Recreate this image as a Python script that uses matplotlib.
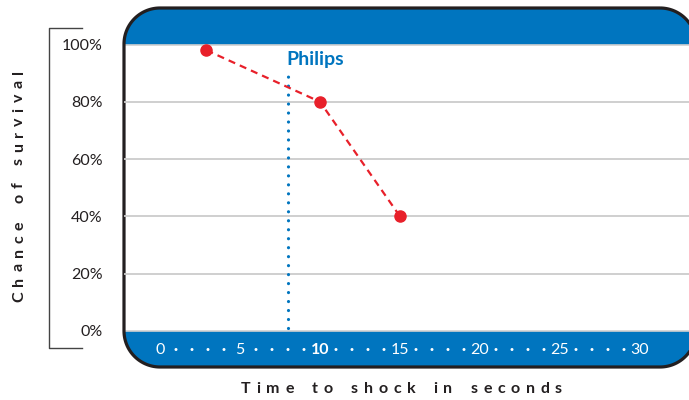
import matplotlib
matplotlib.use("Agg")
import numpy as np
import matplotlib.pyplot as plt
from matplotlib.patches import Polygon, Rectangle
from matplotlib.font_manager import FontProperties

# ---------------- data ----------------
times = [2.9, 10, 15]
survival = [98, 80, 40]
philips_time = 8
philips_label = "Philips"
y_ticks = [0, 20, 40, 60, 80, 100]
y_tick_labels = ["0%", "20%", "40%", "60%", "80%", "100%"]
x_major = [0, 5, 10, 15, 20, 25, 30]
x_major_labels = ["0", "5", "10", "15", "20", "25", "30"]
x_bold = "10"
x_minor = [1, 2, 3, 4, 6, 7, 8, 9, 11, 12, 13, 14, 16, 17, 18, 19,
           21, 22, 23, 24, 26, 27, 28, 29]
y_title = "Chance of survival"
x_title = "Time to shock in seconds"

# ---------------- style ----------------
BLUE = "#0075bf"
RED = "#e8202a"
GRID = "#cccccc"
DARK = "#231f20"
FONT = ["Lato", "DejaVu Sans"]
plt.rcParams["font.family"] = FONT

W, H = 689, 400
fig = plt.figure(figsize=(W / 100, H / 100), dpi=100)
renderer = fig.canvas.get_renderer()

# background axes in pixel units (y downwards)
bg = fig.add_axes([0, 0, 1, 1])
bg.set_xlim(0, W)
bg.set_ylim(H, 0)
bg.axis("off")


def rounded_rect(x0, y0, x1, y1, rad, n=30):
    pts = []
    corners = [(x1 - rad, y0 + rad, -90, 0),    # top right
               (x1 - rad, y1 - rad, 0, 90),     # bottom right
               (x0 + rad, y1 - rad, 90, 180),   # bottom left
               (x0 + rad, y0 + rad, 180, 270)]  # top left
    for cx, cy, a0, a1 in corners:
        a = np.radians(np.linspace(a0, a1, n))
        pts.extend(zip(cx + rad * np.cos(a), cy + rad * np.sin(a)))
    return np.array(pts)


pl, pr, pt, pb = 124, 696, 8, 367
y0px, y100px = 331, 44.5
verts = rounded_rect(pl, pt, pr, pb, 36)

panel = Polygon(verts, closed=True, fc="white", ec="none", zorder=2)
bg.add_patch(panel)
top_band = Rectangle((pl - 5, pt - 5), pr - pl + 10, y100px - pt + 5,
                     fc=BLUE, ec="none", zorder=3)
bot_band = Rectangle((pl - 5, y0px), pr - pl + 10, pb - y0px + 5,
                     fc=BLUE, ec="none", zorder=3)
for b in (top_band, bot_band):
    bg.add_patch(b)
    b.set_clip_path(panel)
border = Polygon(verts, closed=True, fc="none", ec=DARK, lw=2.3,
                 joinstyle="round", zorder=5)
bg.add_patch(border)
for yy in (y100px, y0px):
    bg.plot([pl + 1, W], [yy, yy], color="#d0d0d0", lw=1.2, zorder=4)

# left bracket
bg.plot([82, 49, 49, 82], [28, 28, 348, 348], color="#444444", lw=1.0, zorder=2)

# ---------------- data axes ----------------
px0, pxs = 160.0, 16.0           # pixel of x=0, pixels per second
pys = (y0px - y100px) / 100.0    # pixels per percent
ax_left, ax_right, ax_top, ax_bot = 124, 689, 8, 368
ax = fig.add_axes([ax_left / W, (H - ax_bot) / H,
                   (ax_right - ax_left) / W, (ax_bot - ax_top) / H])
ax.patch.set_alpha(0)
ax.set_xlim((ax_left - px0) / pxs, (ax_right - px0) / pxs)
ax.set_ylim((y0px - ax_bot) / pys, (y0px - ax_top) / pys)
for s in ax.spines.values():
    s.set_visible(False)
ax.set_xticks([])
ax.set_yticks(y_ticks, y_tick_labels)
ax.tick_params(axis="y", length=0, pad=15.5, labelsize=11.5, labelcolor=DARK)

for yv in y_ticks[1:-1]:
    ax.axhline(yv, color=GRID, lw=1.3, zorder=1)

# Philips dotted line
ax.plot([philips_time, philips_time], [1, 89], color=BLUE, lw=2.3,
        linestyle=(0, (0.01, 2.8)), dash_capstyle="round", zorder=3)
ax.text(philips_time - 0.1, 94.6, philips_label, color=BLUE, fontsize=14,
        fontweight="bold", ha="left", va="center", zorder=4)

# survival line
ax.plot(times, survival, color=RED, lw=1.6, linestyle=(0, (3.2, 2.3)),
        marker="o", ms=8, mfc=RED, mec=RED, zorder=5)

# x tick labels inside the blue band
yband = (y0px - 350) / pys
for xv, lab in zip(x_major, x_major_labels):
    ax.text(xv, yband, lab, color="white", fontsize=11.5, ha="center", va="center",
            fontweight="bold" if lab == x_bold else "normal", zorder=6)
for xv in x_minor:
    ax.text(xv, yband, "\u2022", color="white", fontsize=7.5, ha="center",
            va="center", family=["DejaVu Sans"], zorder=6)


def tracked_text(s, cx, cy, span, size, vertical=False):
    """Draw letter-spaced text centred at pixel (cx, cy) spanning `span` px."""
    fp = FontProperties(family=FONT, weight="bold", size=size)
    widths = []
    for ch in s:
        if ch == " ":
            widths.append(None)
        else:
            w, h, d = renderer.get_text_width_height_descent(ch, fp, ismath=False)
            widths.append(w)
    letters = sum(w for w in widths if w is not None)
    n_gaps = len(s) - 1
    n_spaces = s.count(" ")
    t = (span - letters) / (n_gaps + 1.2 * n_spaces)
    pos = -span / 2
    for ch, w in zip(s, widths):
        if w is None:
            pos += 1.2 * t + t
            continue
        c = pos + w / 2
        if vertical:
            x, y = cx, cy - c
            fig.text(x / W, 1 - y / H, ch, rotation=90, ha="center", va="center",
                     fontproperties=fp, color=DARK)
        else:
            x, y = cx + c, cy
            fig.text(x / W, 1 - y / H, ch, ha="center", va="baseline",
                     fontproperties=fp, color=DARK)
        pos += w + t


tracked_text(x_title, 401.5, 393, 321, 11.5)
tracked_text(y_title, 19, 186, 232, 11.5, vertical=True)

fig.savefig("out.png", dpi=100)
